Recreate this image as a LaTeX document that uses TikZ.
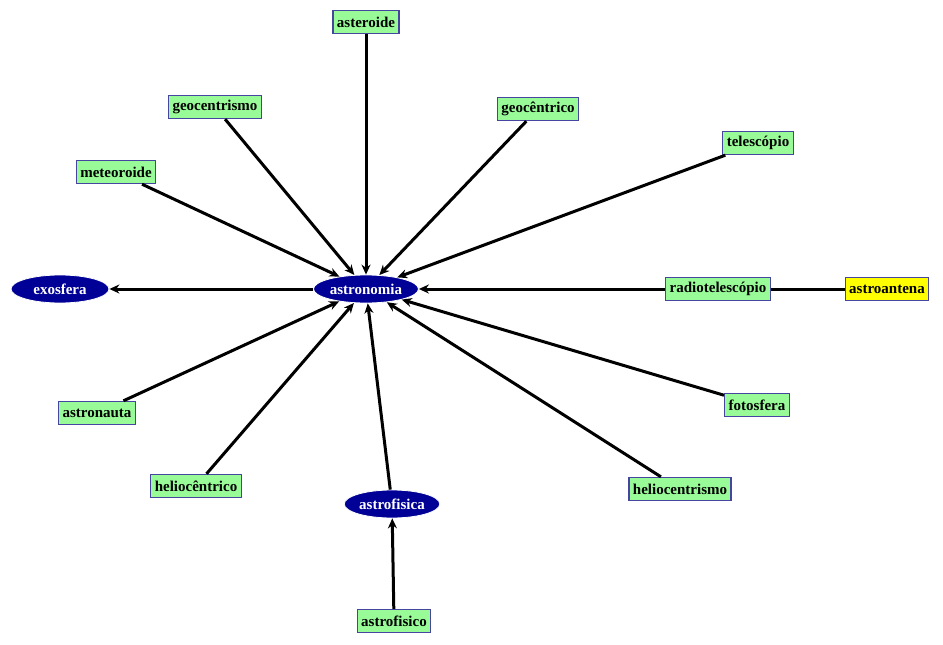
\documentclass[tikz,border=0pt]{standalone}
\usepackage{fontspec}
\setmainfont{Liberation Serif}
\usetikzlibrary{shapes.geometric,arrows.meta}
\definecolor{boxg}{RGB}{152,251,152}
\definecolor{boxy}{RGB}{255,255,0}
\definecolor{edgeb}{RGB}{70,70,160}
\definecolor{navyb}{RGB}{0,0,150}
\begin{document}
\begin{tikzpicture}[x=1pt,y=-1pt,
  gbox/.style={draw=edgeb,line width=1.4pt,fill=boxg,font=\bfseries\fontsize{15}{17}\selectfont,inner xsep=4pt,inner ysep=3pt,minimum height=23pt},
  ybox/.style={gbox,fill=boxy},
  ell/.style={ellipse,draw=white,line width=0.8pt,fill=navyb,text=white,font=\bfseries\fontsize{15}{17}\selectfont,inner sep=1pt,minimum height=28pt,minimum width=98pt},
  con/.style={line width=3pt,-{Stealth[length=10pt,width=9pt]}},
  plain/.style={line width=3pt}]
\useasboundingbox (0,0) rectangle (943,645);
\node[gbox] (ast) at (366,22) {asteroide};
\node[gbox] (gcm) at (215,107) {geocentrismo};
\node[gbox] (gco) at (538,109) {geocêntrico};
\node[gbox] (tel) at (758,143) {telescópio};
\node[gbox] (met) at (116,172) {meteoroide};
\node[ell,minimum width=98pt] (exo) at (60,289) {exosfera};
\node[ell] (aon) at (366,289) {astronomia};
\node[gbox] (rad) at (718,289) {radiotelescópio};
\node[ybox] (ant) at (887,289) {astroantena};
\node[gbox] (nau) at (97,413) {astronauta};
\node[gbox] (fot) at (757,405) {fotosfera};
\node[gbox] (hco) at (196,486) {heliocêntrico};
\node[ell,minimum width=90pt] (afa) at (392,504) {astrofisica};
\node[gbox] (hcm) at (680,489) {heliocentrismo};
\node[gbox] (afo) at (394,621) {astrofisico};
\foreach \n in {ast,gcm,gco,tel,met,rad,nau,fot,hco,hcm,afa}
  \draw[con] (\n) -- (aon);
\draw[con] (aon) -- (exo);
\draw[con] (afo) -- (afa);
\draw[plain] (ant) -- (rad);
\end{tikzpicture}
\end{document}
